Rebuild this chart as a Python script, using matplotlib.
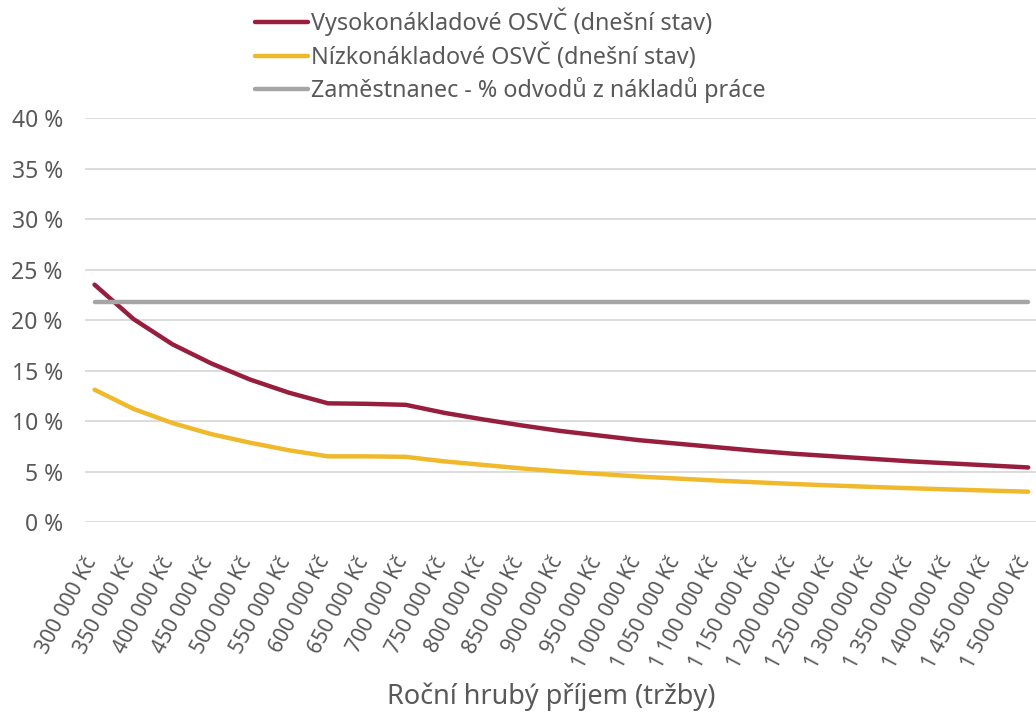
import matplotlib
matplotlib.use("Agg")
import matplotlib.pyplot as plt
import matplotlib.transforms as mtransforms

plt.rcParams['font.family'] = ['Noto Sans', 'DejaVu Sans']

categories = ['300 000 Kč', '350 000 Kč', '400 000 Kč', '450 000 Kč', '500 000 Kč',
              '550 000 Kč', '600 000 Kč', '650 000 Kč', '700 000 Kč', '750 000 Kč',
              '800 000 Kč', '850 000 Kč', '900 000 Kč', '950 000 Kč', '1 000 000 Kč',
              '1 050 000 Kč', '1 100 000 Kč', '1 150 000 Kč', '1 200 000 Kč',
              '1 250 000 Kč', '1 300 000 Kč', '1 350 000 Kč', '1 400 000 Kč',
              '1 450 000 Kč', '1 500 000 Kč']

vysoko = [23.5, 20.1, 17.6, 15.7, 14.1, 12.8, 11.75, 11.7, 11.6, 10.8,
          10.15, 9.55, 9.0, 8.55, 8.1, 7.75, 7.4, 7.05, 6.75, 6.5,
          6.25, 6.0, 5.8, 5.6, 5.4]
nizko = [13.1, 11.2, 9.8, 8.7, 7.85, 7.1, 6.5, 6.5, 6.45, 6.0,
         5.65, 5.3, 5.0, 4.75, 4.5, 4.3, 4.1, 3.93, 3.76, 3.61,
         3.47, 3.34, 3.22, 3.11, 3.0]
zamestnanec = [21.8] * len(categories)

red = '#981E3E'
yellow = '#F0B92B'
grey = '#A5A5A5'
txt = '#595959'

fig = plt.figure(figsize=(10.36, 7.26), dpi=100)
ax = fig.add_axes([85 / 1036, 1 - 522 / 726, 1 - 85 / 1036, (522 - 118) / 726])

x = list(range(len(categories)))
ax.plot(x, vysoko, color=red, lw=3.2, solid_capstyle='round', solid_joinstyle='round',
        label='Vysokonákladové OSVČ (dnešní stav)')
ax.plot(x, nizko, color=yellow, lw=3.2, solid_capstyle='round', solid_joinstyle='round',
        label='Nízkonákladové OSVČ (dnešní stav)')
ax.plot(x, zamestnanec, color=grey, lw=3.2, solid_capstyle='round',
        label='Zaměstnanec - % odvodů z nákladů práce')

ax.set_ylim(0, 40)
ax.set_xlim(-0.245, 24.2)
ax.set_yticks(range(0, 41, 5))
ax.set_yticklabels([f'{v} %' for v in range(0, 41, 5)])
ax.set_xticks(x)
ax.set_xticklabels(categories, rotation=62, ha='right', va='center', rotation_mode='anchor')
ax.tick_params(axis='both', length=0, labelsize=16.5, colors=txt)
ax.tick_params(axis='x', pad=26, labelsize=15.2)
ax.tick_params(axis='y', pad=16)

# nudge the rotated labels a bit to the left, like the original
shift = mtransforms.ScaledTranslation(-3 / 100, 0, fig.dpi_scale_trans)
for lbl in ax.get_xticklabels():
    lbl.set_transform(lbl.get_transform() + shift)

ax.grid(axis='y', color='#D9D9D9', lw=1.3)
ax.set_axisbelow(True)
for s in ax.spines.values():
    s.set_visible(False)

fig.legend(loc='upper left', bbox_to_anchor=(255 / 1036, 1 - 8 / 726), frameon=False,
           fontsize=16.8, labelcolor=txt, handlelength=2.25, handletextpad=0.17,
           labelspacing=0.3, borderaxespad=0, borderpad=0)

fig.text(551 / 1036, 1 - 697 / 726, 'Roční hrubý příjem (tržby)', ha='center', va='center',
         fontsize=19.5, color=txt)

fig.savefig('out.png', dpi=100)
